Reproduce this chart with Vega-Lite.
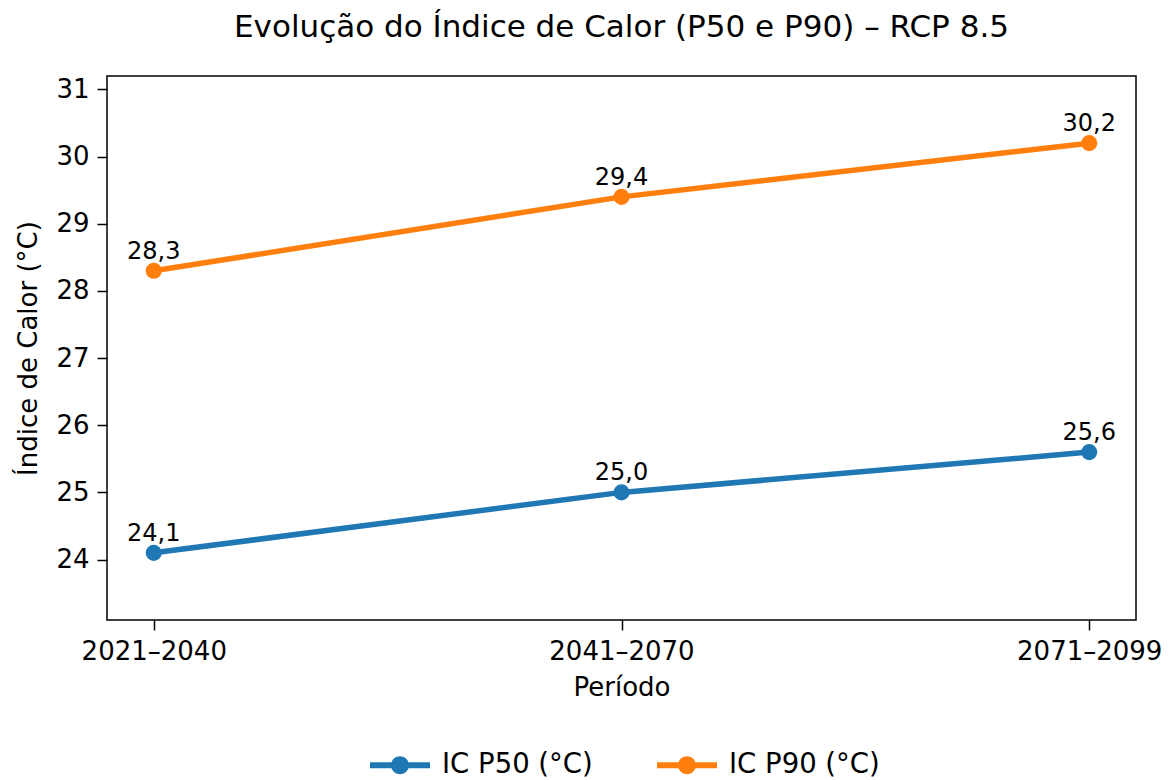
{
  "$schema": "https://vega.github.io/schema/vega-lite/v6.json",
  "autosize": "none",
  "width": 1029,
  "height": 544,
  "padding": {"left": 107, "top": 76, "right": 36, "bottom": 160},
  "background": "white",
  "title": {
    "text": "Evolução do Índice de Calor (P50 e P90) – RCP 8.5",
    "fontSize": 31,
    "fontWeight": "normal",
    "font": "DejaVu Sans",
    "color": "black",
    "anchor": "middle",
    "offset": 32
  },
  "data": {
    "values": [
      {"periodo": "2021–2040", "serie": "IC P50 (°C)", "valor": 24.1, "rotulo": "24,1"},
      {"periodo": "2041–2070", "serie": "IC P50 (°C)", "valor": 25.0, "rotulo": "25,0"},
      {"periodo": "2071–2099", "serie": "IC P50 (°C)", "valor": 25.6, "rotulo": "25,6"},
      {"periodo": "2021–2040", "serie": "IC P90 (°C)", "valor": 28.3, "rotulo": "28,3"},
      {"periodo": "2041–2070", "serie": "IC P90 (°C)", "valor": 29.4, "rotulo": "29,4"},
      {"periodo": "2071–2099", "serie": "IC P90 (°C)", "valor": 30.2, "rotulo": "30,2"}
    ]
  },
  "encoding": {
    "x": {
      "field": "periodo",
      "type": "ordinal",
      "scale": {"type": "point", "padding": 0.1},
      "axis": {"title": "Período", "labelAngle": 0, "titlePadding": 10}
    },
    "y": {
      "field": "valor",
      "type": "quantitative",
      "scale": {"domain": [23.1, 31.2], "nice": false, "zero": false},
      "axis": {"title": "Índice de Calor (°C)", "values": [24, 25, 26, 27, 28, 29, 30, 31], "titlePadding": 14}
    },
    "color": {
      "field": "serie",
      "type": "nominal",
      "scale": {"domain": ["IC P50 (°C)", "IC P90 (°C)"], "range": ["#1f77b4", "#ff7f0e"]},
      "legend": {
        "title": null,
        "orient": "none",
        "legendX": 263,
        "legendY": 659,
        "direction": "horizontal",
        "symbolType": "M-1,-0.1H1V0.1H-1Z M0.3,0A0.3,0.3,0,1,1,-0.3,0A0.3,0.3,0,1,1,0.3,0Z",
        "symbolSize": 3600,
        "symbolStrokeWidth": 0,
        "labelFontSize": 27.5,
        "labelColor": "black",
        "labelOffset": 12,
        "columnPadding": 64,
        "encode": {
          "symbols": {"update": {"fill": {"scale": "color", "field": "value"}, "strokeWidth": {"value": 0}, "fillOpacity": {"value": 1}}}
        }
      }
    }
  },
  "layer": [
    {"mark": {"type": "line", "strokeWidth": 5.5}},
    {"mark": {"type": "point", "filled": true, "size": 260, "opacity": 1, "shape": "circle"}},
    {
      "mark": {"type": "text", "fontSize": 24, "dy": -12, "baseline": "alphabetic", "align": "center", "color": "black"},
      "encoding": {"text": {"field": "rotulo"}, "color": {"value": "black"}}
    }
  ],
  "config": {
    "font": "DejaVu Sans",
    "view": {"stroke": "black", "strokeWidth": 1.5},
    "axis": {
      "domain": false,
      "grid": false,
      "ticks": true,
      "tickColor": "black",
      "tickWidth": 1.5,
      "tickSize": 10,
      "labelFontSize": 26,
      "labelColor": "black",
      "labelPadding": 8,
      "titleFontSize": 26,
      "titleFontWeight": "normal",
      "titleColor": "black"
    }
  }
}
